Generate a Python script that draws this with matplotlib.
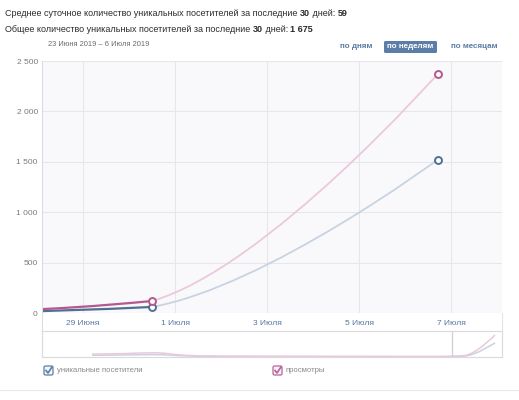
import matplotlib
matplotlib.use('Agg')
import matplotlib.pyplot as plt
from matplotlib.path import Path
from matplotlib.patches import PathPatch, FancyBboxPatch
from matplotlib.lines import Line2D
from matplotlib.transforms import Affine2D

# weekly points (day number, June 1 = 1); last point is the current, unfinished week
week_days = [-43.9, -37.7, -31.5, -25.3, -19.1, -12.9, -6.7, -0.5, 5.7, 11.9, 18.1, 24.3, 30.5, 36.7]
visitors = [150, 180, 220, 80, 35, 25, 20, 15, 12, 10, 8, 6, 60, 1520]
views = [280, 330, 420, 150, 60, 40, 30, 25, 20, 18, 14, 12, 119, 2370]

tick_days = [29, 31, 33, 35, 37]
tick_labels = ['29 Июня', '1 Июля', '3 Июля', '5 Июля', '7 Июля']
y_ticks = [0, 500, 1000, 1500, 2000, 2500]
y_labels = ['0', '500', '1 000', '1 500', '2 000', '2 500']

view_min, view_max = 28.11, 38.1
nav_min = -53.9

W, H = 519, 400
FONT = 'Liberation Sans'


def spline_segments(xs, ys, smoothing=1.5, last_free=0.0):
    # bezier control points like a highcharts "spline" series;
    # last_free loosens the overshoot clamp on the final (unfinished) segment
    n = len(xs)
    lc = [None] * n
    rc = [None] * n
    rc_free = [None] * n
    d = smoothing + 1
    for i in range(1, n - 1):
        x0, y0 = xs[i - 1], ys[i - 1]
        x, y = xs[i], ys[i]
        x2, y2 = xs[i + 1], ys[i + 1]
        lcx = (smoothing * x + x0) / d
        lcy = (smoothing * y + y0) / d
        rcx = (smoothing * x + x2) / d
        rcy = (smoothing * y + y2) / d
        corr = (rcy - lcy) * (rcx - x) / (rcx - lcx) + y - rcy
        lcy += corr
        rcy += corr
        rc_free[i] = (rcx, rcy)
        if lcy > max(y0, y):
            lcy = max(y0, y); rcy = 2 * y - lcy
        elif lcy < min(y0, y):
            lcy = min(y0, y); rcy = 2 * y - lcy
        if rcy > max(y2, y):
            rcy = max(y2, y); lcy = 2 * y - rcy
        elif rcy < min(y2, y):
            rcy = min(y2, y); lcy = 2 * y - rcy
        lc[i] = (lcx, lcy)
        rc[i] = (rcx, rcy)
    if last_free:
        cx, cy = rc[n - 2]
        rc[n - 2] = (cx, cy + last_free * (rc_free[n - 2][1] - cy))
    segs = []
    for i in range(1, n):
        p0 = (xs[i - 1], ys[i - 1])
        p1 = (xs[i], ys[i])
        segs.append([p0, rc[i - 1] or p0, lc[i] or p1, p1])
    return segs


def seg_path(segs):
    verts = [segs[0][0]]
    codes = [Path.MOVETO]
    for s in segs:
        verts += s[1:]
        codes += [Path.CURVE4] * 3
    return Path(verts, codes)


fig = plt.figure(figsize=(W / 100, H / 100), dpi=100)
px = Affine2D().scale(1 / W, -1 / H).translate(0, 1) + fig.transFigure

# main chart
ax = fig.add_axes([42 / W, 1 - 313 / H, 460 / W, 252 / H])
ax.set_facecolor('#f9f9fb')
for s in ax.spines.values():
    s.set_visible(False)
ax.set_xlim(view_min, view_max)
ax.set_ylim(0, 2500)
ax.set_xticks(tick_days, tick_labels)
ax.set_yticks(y_ticks, y_labels)
ax.tick_params(length=0, labelsize=6, labelcolor='#7a7a7a', pad=3)
ax.tick_params(axis='x', labelcolor='#5677a0', pad=5)
for t in ax.get_xticklabels() + ax.get_yticklabels():
    t.set_family(FONT)
ax.grid(color='#e7e7eb', lw=0.8)
ax.set_axisbelow(True)

series = [
    (visitors, '#4f6f93', '#c8d3e2'),
    (views, '#b5588f', '#ebc9da'),
]
for vals, dark, light in series:
    segs = spline_segments(week_days, vals)
    last = spline_segments(week_days, vals, last_free=0.6)[-1:]
    ax.add_patch(PathPatch(seg_path(segs[:-1]), fill=False, ec=dark, lw=1.6, zorder=3))
    ax.add_patch(PathPatch(seg_path(last), fill=False, ec=light, lw=1.3, zorder=3))
    ax.plot(week_days[-2:], vals[-2:], ls='none', marker='o', ms=5, mfc='white',
            mec=dark, mew=1.4, zorder=4, clip_on=False)

# navigator
nav = fig.add_axes([42 / W, 1 - 357 / H, 460 / W, 26 / H])
nav.set_xlim(nav_min, view_max)
nav.set_ylim(-40, 2800)
nav.set_xticks([])
nav.set_yticks([])
for s in nav.spines.values():
    s.set_color('#d9d9de')
    s.set_linewidth(0.8)
for vals, dark, light in series:
    segs = spline_segments(week_days, vals)
    nav.add_patch(PathPatch(seg_path(segs), fill=False, ec=light, lw=1.1))
nav.axvline(view_min, color='#cfcfd5', lw=0.9)

# frame lines around the label strip
fig.add_artist(Line2D([42, 42], [61, 357], transform=px, color='#dcdce0', lw=0.8))
fig.add_artist(Line2D([502, 502], [313, 331], transform=px, color='#e4e4e8', lw=0.8))
fig.add_artist(Line2D([0, W], [390, 390], transform=px, color='#e8e8eb', lw=0.8))

# header with bold parts
renderer = fig.canvas.get_renderer()


def draw_runs(x, y, runs):
    for text, bold in runs:
        t = fig.text(x, y, text, transform=px, family=FONT, size=6.5, color='#2b2b2b',
                     weight='bold' if bold else 'normal', va='center', ha='left')
        x += t.get_window_extent(renderer).width


draw_runs(5, 13, [('Среднее суточное количество уникальных посетителей за последние ', False),
                  ('30', True), (' дней: ', False), ('59', True)])
draw_runs(5, 29, [('Общее количество уникальных посетителей за последние ', False),
                  ('30', True), (' дней: ', False), ('1 675', True)])

fig.text(48, 44, '23 Июня 2019 – 6 Июля 2019', transform=px, family=FONT, size=5.4,
         color='#6a6a6a', va='center')

# period buttons
fig.add_artist(FancyBboxPatch((384, 41), 53, 12, boxstyle='round,pad=0,rounding_size=1.5',
                              transform=px, fc='#5a7ea7', ec='none'))
fig.text(410.5, 47, 'по неделям', transform=px, family=FONT, size=5.8, weight='bold',
         color='white', ha='center', va='center')
fig.text(356, 47, 'по дням', transform=px, family=FONT, size=5.8, weight='bold',
         color='#5b7ca3', ha='center', va='center')
fig.text(474, 47, 'по месяцам', transform=px, family=FONT, size=5.8, weight='bold',
         color='#5b7ca3', ha='center', va='center')

# legend checkboxes
legend_items = [(44, 'уникальные посетители', '#5a7fa8'), (273, 'просмотры', '#c0609a')]
for x0, label, col in legend_items:
    fig.add_artist(FancyBboxPatch((x0, 366), 9, 9, boxstyle='round,pad=0,rounding_size=1.5',
                                  transform=px, fc='#f3f5f8', ec=col, lw=0.9))
    fig.add_artist(Line2D([x0 + 2, x0 + 4, x0 + 8], [370.5, 373, 367], transform=px,
                          color=col, lw=1.2))
    fig.text(x0 + 13, 370.5, label, transform=px, family=FONT, size=5.6, color='#8a8a8a',
             va='center')

fig.savefig('out.png', dpi=100)
